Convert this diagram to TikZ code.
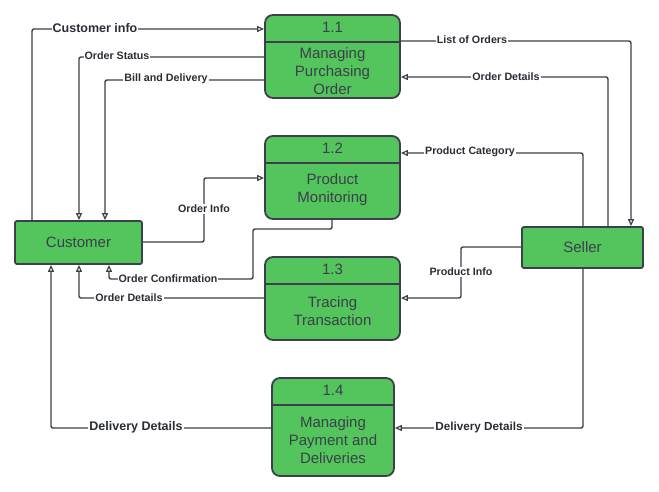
\documentclass[tikz,border=0pt]{standalone}
\usepackage{fontspec}
\setmainfont{Liberation Sans}
\usetikzlibrary{arrows.meta}
\definecolor{boxgreen}{RGB}{84,196,92}
\definecolor{ink}{RGB}{58,65,74}
\tikzset{
  entity/.style={draw=ink, line width=1.8pt, fill=boxgreen, rounded corners=2pt, inner sep=0pt},
  proc/.style={draw=ink, line width=1.8pt, fill=boxgreen, rounded corners=8pt, inner sep=0pt},
  divider/.style={draw=ink, line width=1.8pt},
  ptext/.style={text=ink, font=\fontsize{15}{18}\selectfont, align=center, inner sep=0pt},
  flow/.style={draw=ink, line width=1.4pt, rounded corners=2pt,
    -{Triangle[open, length=7pt, width=6pt, line width=1.2pt]}},
  lbl/.style={fill=white, text=ink!70!black, inner sep=1pt, font=\bfseries\fontsize{10.7}{12}\selectfont},
  midlbl/.style={lbl, font=\bfseries\fontsize{11.7}{13}\selectfont},
  biglbl/.style={lbl, font=\bfseries\fontsize{12.5}{14}\selectfont},
}
\begin{document}
\begin{tikzpicture}[x=1pt, y=-1pt]
\useasboundingbox[fill=white] (0,0) rectangle (659,492);

% external entities
\node[entity, minimum width=127pt, minimum height=43pt] (cust) at (78.5,242.5) {};
\node[ptext] (custt) at (cust.center) {Customer};
\node[entity, minimum width=121pt, minimum height=41pt] (seller) at (582.5,247.5) {};
\node[ptext] (sellert) at (seller.center) {Seller};

% processes
\node[proc, minimum width=135pt, minimum height=83pt] (p1) at (332.5,56.5) {};
\draw[divider] (p1.west |- 0,42) -- (p1.east |- 0,42);
\node[ptext] (p1n) at (332.5,27) {1.1};
\node[ptext] (p1t) at (332.5,71) {Managing\\Purchasing\\Order};

\node[proc, minimum width=135pt, minimum height=83pt] (p2) at (332.5,177.5) {};
\draw[divider] (p2.west |- 0,163) -- (p2.east |- 0,163);
\node[ptext] (p2n) at (332.5,148) {1.2};
\node[ptext] (p2t) at (332.5,190) {Product\\Monitoring};

\node[proc, minimum width=135pt, minimum height=83pt] (p3) at (332.5,298.5) {};
\draw[divider] (p3.west |- 0,284) -- (p3.east |- 0,284);
\node[ptext] (p3n) at (332.5,269) {1.3};
\node[ptext] (p3t) at (332.5,311) {Tracing\\Transaction};

\node[proc, minimum width=122pt, minimum height=98pt] (p4) at (333,427) {};
\draw[divider] (p4.west |- 0,405) -- (p4.east |- 0,405);
\node[ptext] (p4n) at (333,390) {1.4};
\node[ptext] (p4t) at (333,440) {Managing\\Payment and\\Deliveries};

% data flows
\draw[flow] (cust.north -| 32,0) |- (p1.west |- 0,29);
\draw[flow] (p1.west |- 0,57) -| (cust.north -| 79,0);
\draw[flow] (p1.west |- 0,80) -| (cust.north -| 105,0);
\draw[flow] (cust.east |- 0,242) -| (204,210) |- (p2.west |- 0,178);
\draw[flow] (p1.east |- 0,41) -| (seller.north -| 631,0);
\draw[flow] (seller.north -| 608,0) |- (p1.east |- 0,77);
\draw[flow] (seller.north -| 583,0) |- (p2.east |- 0,153);
\draw[flow] (p2.south -| 332,0) -- (332,229) -- (253,229) -- (253,279) -- (109,279) -- (cust.south -| 109,0);
\draw[flow] (p3.west |- 0,298) -| (cust.south -| 79,0);
\draw[flow] (seller.west |- 0,247) -| (461,272) |- (p3.east |- 0,298);
\draw[flow] (p4.west |- 0,428) -| (cust.south -| 51,0);
\draw[flow] (seller.south -| 583,0) |- (p4.east |- 0,428);

% flow labels
\node[biglbl] (l1) at (95,28) {Customer info};
\node[lbl] (l2) at (117,56) {Order Status};
\node[lbl] (l3) at (166,79) {Bill and Delivery};
\node[lbl] (l4) at (204,209) {Order Info};
\node[lbl] (l5) at (472,40) {List of Orders};
\node[lbl] (l6) at (506,77) {Order Details};
\node[lbl] (l7) at (470,152) {Product Category};
\node[lbl] (l8) at (168,279) {Order Confirmation};
\node[lbl] (l9) at (129,298) {Order Details};
\node[lbl] (l10) at (461,272) {Product Info};
\node[biglbl] (l11) at (136,427) {Delivery Details};
\node[midlbl] (l12) at (479,427) {Delivery Details};
\end{tikzpicture}
\end{document}
